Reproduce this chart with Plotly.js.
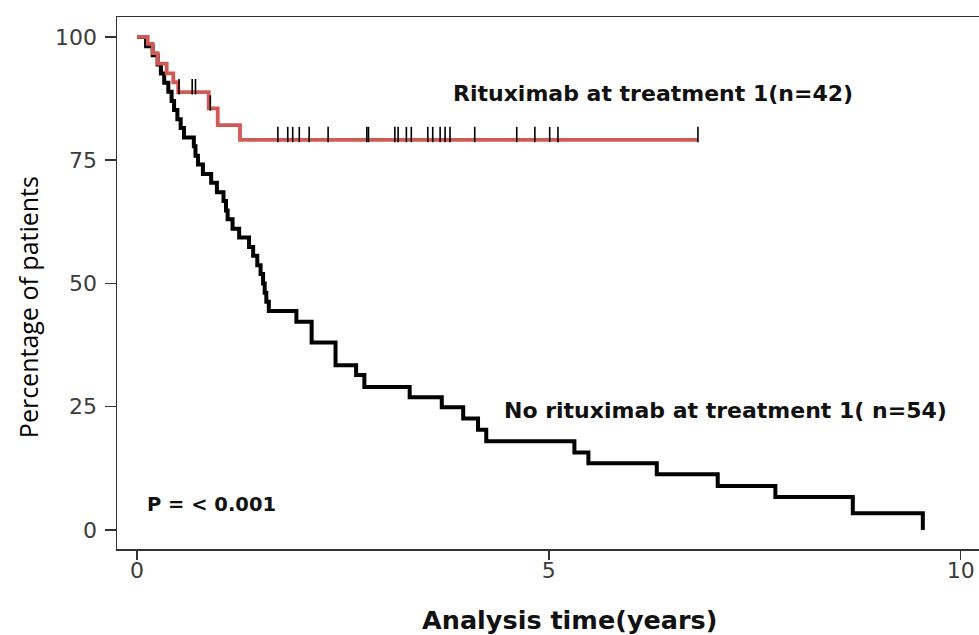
<!DOCTYPE html>
<html>
<head>
<meta charset="utf-8">
<script src="https://cdn.plot.ly/plotly-3.0.1.min.js"></script>
<style>
  html, body { margin: 0; padding: 0; background: #ffffff; }
  #chart { width: 979px; height: 635px; }
</style>
</head>
<body>
<div id="chart"></div>
<script>
// Kaplan-Meier: rituximab at treatment 1 (n=42)
const redTime = [0, 0.13, 0.19, 0.25, 0.36, 0.44, 0.50, 0.87, 0.98, 1.25, 6.81];
const redSurv = [100, 98.6, 96.7, 94.6, 92.6, 90.8, 88.8, 85.5, 82.1, 79.1, 79.1];
// censoring times on the rituximab curve
const redCensor = [0.51, 0.67, 0.71, 0.89, 1.71, 1.83, 1.89, 1.97, 2.09, 2.32, 2.79, 2.81,
  3.13, 3.17, 3.27, 3.33, 3.53, 3.59, 3.68, 3.74, 3.80, 4.10, 4.61, 4.83, 5.01, 5.11, 6.81];

// Kaplan-Meier: no rituximab at treatment 1 (n=54)
const blackTime = [0, 0.11, 0.19, 0.25, 0.29, 0.33, 0.38, 0.42, 0.45, 0.49, 0.53, 0.57, 0.69,
  0.71, 0.74, 0.80, 0.90, 0.97, 1.05, 1.08, 1.10, 1.16, 1.24, 1.36, 1.41, 1.46, 1.50, 1.53,
  1.55, 1.57, 1.60, 1.935, 2.12, 2.41, 2.66, 2.76, 3.31, 3.70, 3.96, 4.14, 4.24, 5.31, 5.48,
  6.31, 7.05, 7.75, 8.69, 9.54];
const blackSurv = [100, 98.1, 96.3, 94.4, 92.6, 90.7, 88.9, 87.0, 85.2, 83.3, 81.5, 79.6, 77.8,
  75.9, 74.1, 72.2, 70.4, 68.5, 66.7, 64.8, 63.0, 61.1, 59.3, 57.4, 55.6, 53.7, 51.9, 50.0,
  48.1, 46.3, 44.4, 42.2, 38.0, 33.4, 31.4, 29.0, 26.9, 24.9, 22.6, 20.3, 18.0, 15.7, 13.5,
  11.3, 8.9, 6.7, 3.4, 0];

const xTicks = [0, 5, 10];
const yTicks = [0, 25, 50, 75, 100];
const labelRed = "Rituximab at treatment 1(n=42)";
const labelBlack = "No rituximab at treatment 1( n=54)";
const pText = "P = < 0.001";
const xTitle = "Analysis time(years)";
const yTitle = "Percentage of patients";

// survival level of the red curve at a censor time (step function lookup)
function levelAt(times, surv, t) {
  let v = surv[0];
  for (let i = 0; i < times.length; i++) { if (times[i] <= t) v = surv[i]; }
  return v;
}
const tickLift = 1.1; // censor marks sit just above the line
const censorY = redCensor.map(t => levelAt(redTime, redSurv, t) + tickLift);

const RED = '#d25a55';

const traces = [
  { x: blackTime, y: blackSurv, type: 'scatter', mode: 'lines',
    line: { shape: 'hv', color: '#000000', width: 4 }, hoverinfo: 'skip', showlegend: false },
  { x: redTime, y: redSurv, type: 'scatter', mode: 'lines',
    line: { shape: 'hv', color: RED, width: 3.8 }, hoverinfo: 'skip', showlegend: false },
  { x: redCensor, y: censorY, type: 'scatter', mode: 'markers',
    marker: { symbol: 'line-ns', size: 11, color: '#000000', line: { color: '#000000', width: 1.6 } },
    hoverinfo: 'skip', showlegend: false }
];

const annFont = { family: 'DejaVu Sans, sans-serif', size: 22, color: '#111111', weight: 'bold' };
const pFont = { family: 'DejaVu Sans, sans-serif', size: 19.5, color: '#111111', weight: 'bold' };

const layout = {
  width: 979, height: 635,
  margin: { l: 117, r: 0, t: 17, b: 86, pad: 0 },
  paper_bgcolor: '#ffffff', plot_bgcolor: '#ffffff',
  showlegend: false,
  xaxis: {
    range: [-0.243, 10.222], tickvals: xTicks, ticktext: xTicks.map(String),
    showgrid: false, zeroline: false, showline: true, mirror: true,
    linecolor: '#333333', linewidth: 1.5,
    ticks: 'outside', ticklen: 9, tickwidth: 1.5, tickcolor: '#333333',
    tickfont: { family: 'DejaVu Sans, sans-serif', size: 22, color: '#3c3c3c' },
    ticklabelstandoff: -8
  },
  yaxis: {
    range: [-3.87, 104.04], tickvals: yTicks, ticktext: yTicks.map(String),
    showgrid: false, zeroline: false, showline: true,
    linecolor: '#333333', linewidth: 1.5,
    ticks: 'outside', ticklen: 11, tickwidth: 1.5, tickcolor: '#333333',
    tickfont: { family: 'DejaVu Sans, sans-serif', size: 22, color: '#3c3c3c' },
    ticklabelstandoff: 3
  },
  annotations: [
    { text: labelRed, x: 6.26, y: 88.6, xref: 'x', yref: 'y', showarrow: false,
      xanchor: 'center', yanchor: 'middle', font: annFont },
    { text: labelBlack, x: 7.14, y: 24.3, xref: 'x', yref: 'y', showarrow: false,
      xanchor: 'center', yanchor: 'middle', font: annFont },
    { text: pText, x: 0.91, y: 5.25, xref: 'x', yref: 'y', showarrow: false,
      xanchor: 'center', yanchor: 'middle', font: pFont },
    { text: xTitle, x: 0.5255, y: -0.1335, xref: 'paper', yref: 'paper', showarrow: false,
      xanchor: 'center', yanchor: 'middle',
      font: { family: 'DejaVu Sans, sans-serif', size: 25.5, color: '#111111', weight: 'bold' } },
    { text: yTitle, x: -0.103, y: 0.455, xref: 'paper', yref: 'paper', showarrow: false,
      xanchor: 'center', yanchor: 'middle', textangle: -90,
      font: { family: 'Open Sans, DejaVu Sans, sans-serif', size: 25, color: '#000000' } }
  ]
};

Plotly.newPlot('chart', traces, layout, { displayModeBar: false, staticPlot: true });
</script>
</body>
</html>
